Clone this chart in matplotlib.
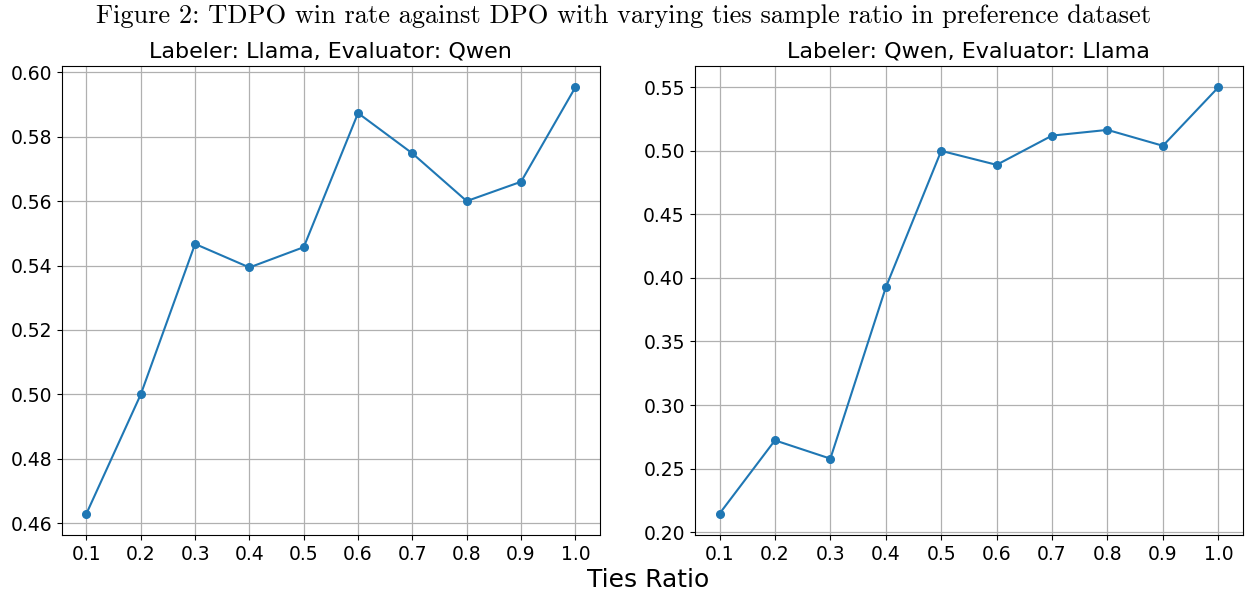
import matplotlib.pyplot as plt

ties_ratio = [0.1, 0.2, 0.3, 0.4, 0.5, 0.6, 0.7, 0.8, 0.9, 1.0]
llama_qwen = [0.463, 0.500, 0.5467, 0.5394, 0.5457, 0.5873, 0.5748, 0.560, 0.566, 0.5953]
qwen_llama = [0.2145, 0.2722, 0.2578, 0.3925, 0.500, 0.489, 0.512, 0.5165, 0.504, 0.550]
titles = ['Labeler: Llama, Evaluator: Qwen', 'Labeler: Qwen, Evaluator: Llama']

fig = plt.figure(figsize=(12.47, 5.92), dpi=100)
ax1 = fig.add_axes([0.0497, 0.0963, 0.4313, 0.7922])
ax2 = fig.add_axes([0.557, 0.0963, 0.440, 0.7922])

for ax, vals, title in zip([ax1, ax2], [llama_qwen, qwen_llama], titles):
    ax.plot(ties_ratio, vals, marker='o', color='#1f77b4', markersize=5.5, linewidth=1.5)
    ax.set_xticks(ties_ratio)
    ax.set_xticklabels([str(x) for x in ties_ratio])
    ax.grid(True, color='#b0b0b0', linewidth=0.9)
    ax.tick_params(labelsize=13.5)
    ax.set_title(title, fontsize=16, pad=6)

ax1.set_yticks([0.46, 0.48, 0.50, 0.52, 0.54, 0.56, 0.58, 0.60])
ax2.set_yticks([0.20, 0.25, 0.30, 0.35, 0.40, 0.45, 0.50, 0.55])
ax1.yaxis.set_major_formatter(plt.FormatStrFormatter('%.2f'))
ax2.yaxis.set_major_formatter(plt.FormatStrFormatter('%.2f'))

fig.text(0.52, 0.02, 'Ties Ratio', ha='center', va='center', fontsize=18)
fig.text(0.5, 0.973, 'Figure 2: TDPO win rate against DPO with varying ties sample ratio in preference dataset',
         ha='center', va='center', fontsize=19, family='cmr10')

plt.savefig('out.png')
